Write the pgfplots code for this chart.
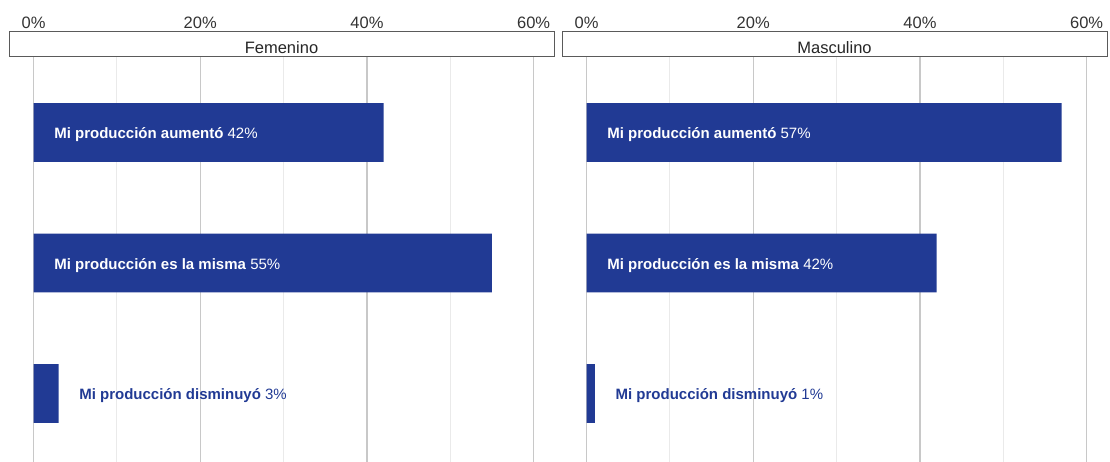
\documentclass[border=0pt]{standalone}
\usepackage{pgfplots}
\pgfplotsset{compat=1.18}
\usepackage{fontspec}
\setmainfont{Liberation Sans}
\definecolor{barblue}{RGB}{33,58,148}
\definecolor{majgrid}{RGB}{200,200,200}
\definecolor{mingrid}{RGB}{234,234,234}
\definecolor{stripedge}{RGB}{90,90,90}
\newcommand{\barfont}{\fontsize{15bp}{18bp}\selectfont}
\newcommand{\tickfont}{\fontsize{16.5bp}{19bp}\selectfont}
\pgfplotsset{
  facet/.style={
    scale only axis,
    width=545bp, height=405bp,
    xmin=-2.95, xmax=62.45,
    ymin=0.4215, ymax=3.525,
    y dir=reverse,
    xbar, bar width=0.45,
    clip=false,
    axis line style={draw=none},
    tick style={draw=none},
    major tick length=0pt, minor tick length=0pt,
    ytick=\empty,
    xtick={0,20,40,60},
    xticklabels={0\%,20\%,40\%,60\%},
    minor xtick={10,30,50},
    xticklabel pos=upper,
    xticklabel style={font=\tickfont, text=black!80, anchor=base, yshift=28.7bp},
    xmajorgrids, xminorgrids,
    major grid style={majgrid, line width=1.3bp},
    minor grid style={mingrid, line width=1bp},
  },
}
\tikzset{
  inlbl/.style={anchor=base west, xshift=20.5bp, yshift=-6.5bp, font=\barfont, text=white, inner sep=0pt},
  outlbl/.style={anchor=base west, xshift=20.5bp, yshift=-6.5bp, font=\barfont, text=barblue, inner sep=0pt},
}
\begin{document}
\begin{tikzpicture}
\path[use as bounding box] (0,0) rectangle (1110bp,462bp);
% Femenino
\begin{axis}[facet, at={(9bp,0bp)}, anchor=south west]
\addplot[fill=barblue, draw=none] coordinates {(42,1) (55,2) (3,3)};
\draw[stripedge, line width=1bp, fill=white] (rel axis cs:0,1) rectangle ([yshift=25bp]rel axis cs:1,1);
\node[anchor=base, font=\tickfont, text=black!85, yshift=3bp] at (rel axis cs:0.5,1) {Femenino};
\node[inlbl] at (axis cs:0,1) {\textbf{Mi producción aumentó} 42\%};
\node[inlbl] at (axis cs:0,2) {\textbf{Mi producción es la misma} 55\%};
\node[outlbl] at (axis cs:3,3) {\textbf{Mi producción disminuyó} 3\%};
\end{axis}
% Masculino
\begin{axis}[facet, at={(562bp,0bp)}, anchor=south west]
\addplot[fill=barblue, draw=none] coordinates {(57,1) (42,2) (1,3)};
\draw[stripedge, line width=1bp, fill=white] (rel axis cs:0,1) rectangle ([yshift=25bp]rel axis cs:1,1);
\node[anchor=base, font=\tickfont, text=black!85, yshift=3bp] at (rel axis cs:0.5,1) {Masculino};
\node[inlbl] at (axis cs:0,1) {\textbf{Mi producción aumentó} 57\%};
\node[inlbl] at (axis cs:0,2) {\textbf{Mi producción es la misma} 42\%};
\node[outlbl] at (axis cs:1,3) {\textbf{Mi producción disminuyó} 1\%};
\end{axis}
\end{tikzpicture}
\end{document}
